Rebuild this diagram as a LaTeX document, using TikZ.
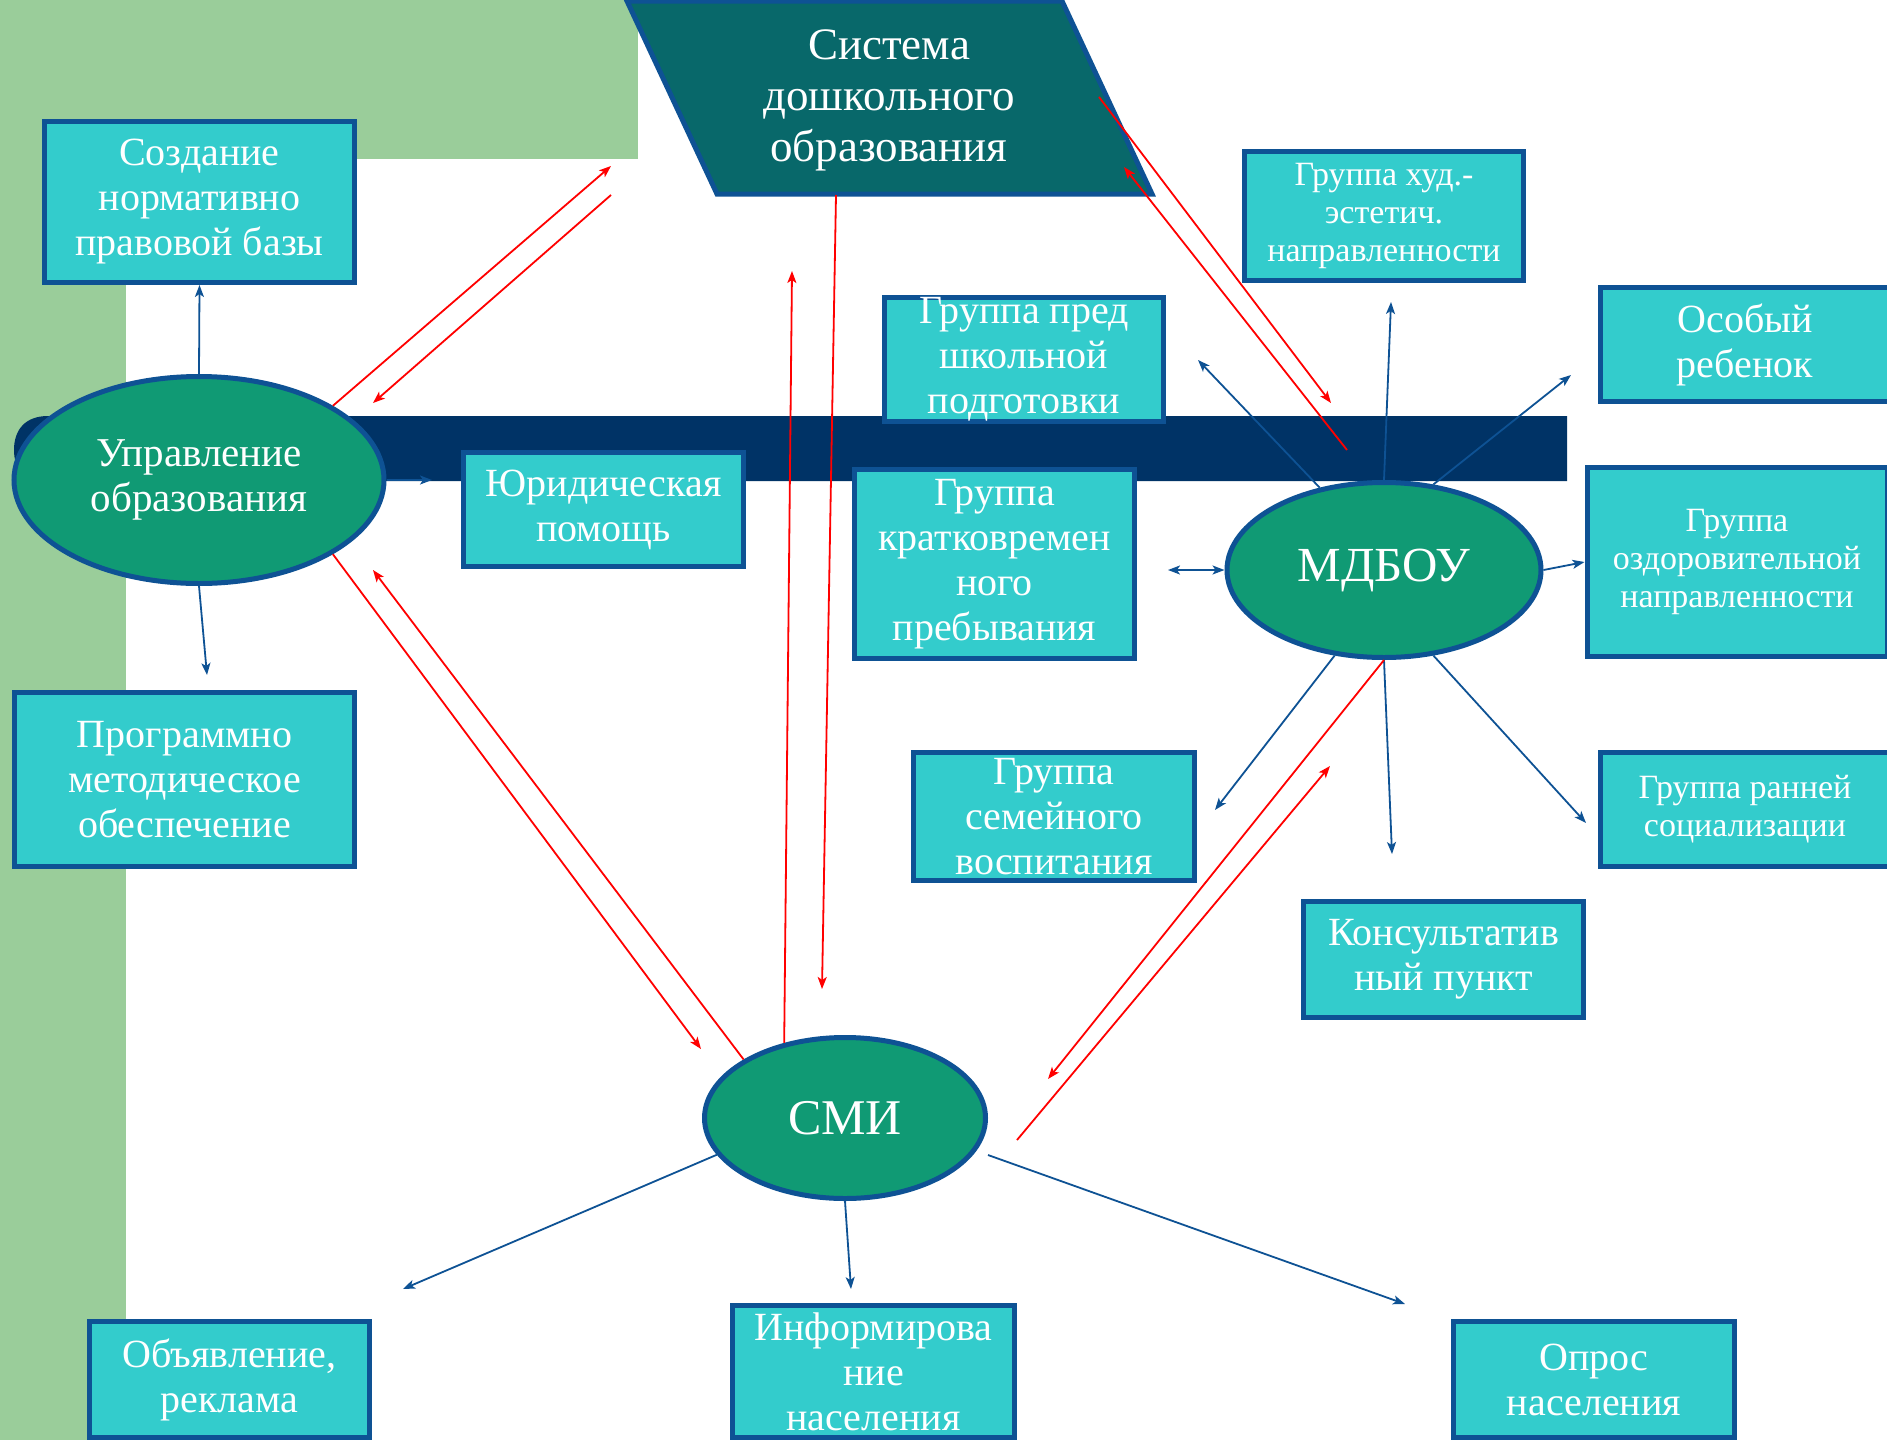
\documentclass[tikz,border=0pt]{standalone}
\usepackage{fontspec}
\setmainfont{Liberation Serif}
\usetikzlibrary{arrows.meta,shapes.geometric}
\definecolor{bggreen}{RGB}{154,205,154}
\definecolor{navyband}{RGB}{0,51,102}
\definecolor{sysfill}{RGB}{8,104,106}
\definecolor{bord}{RGB}{14,82,148}
\definecolor{ellfill}{RGB}{16,154,116}
\definecolor{boxfill}{RGB}{51,204,204}
\tikzset{
  box/.style={rectangle, draw=bord, line width=5pt, fill=boxfill, text=white,
    align=center, inner sep=0pt, font=\fontsize{40}{45}\selectfont},
  smallbox/.style={box, font=\fontsize{34}{38}\selectfont},
  oval/.style={ellipse, draw=bord, line width=5pt, fill=ellfill, text=white,
    align=center, inner sep=0pt, font=\fontsize{41}{45}\selectfont},
  barr/.style={draw=bord, line width=1.8pt, -{Stealth[length=12pt,width=9pt,inset=3pt]}},
  barrboth/.style={draw=bord, line width=1.8pt, {Stealth[length=12pt,width=9pt,inset=3pt]}-{Stealth[length=12pt,width=9pt,inset=3pt]}},
  rarr/.style={draw=red, line width=1.8pt, -{Stealth[length=12pt,width=9pt,inset=3pt]}}
}
\begin{document}
\begin{tikzpicture}[x=1pt,y=-1pt]
\useasboundingbox (0,0) rectangle (1887,1440);
\clip (0,0) rectangle (1887,1440);
\fill[white] (0,0) rectangle (1887,1440);
% background
\fill[bggreen] (0,0) rectangle (126,1440);
\fill[bggreen] (0,0) rectangle (638,159);
% band
\fill[navyband] (1567,416) -- (48,416) .. controls (25,416) and (14,430) .. (14,450)
  .. controls (14,470) and (25,481) .. (48,481) -- (1567,481) -- cycle;
% parallelogram
\filldraw[fill=sysfill, draw=bord, line width=5pt] (627,1) -- (1062,1) -- (1152,194) -- (717,194) -- cycle;
\node[text=white, align=center, font=\fontsize{45}{51}\selectfont] (sys) at (889,100) {Система\\дошкольного\\образования};

% ellipses
\node[oval, minimum width=370pt, minimum height=207pt] (upr) at (199,480) {Управление\\образования};
\node[oval, minimum width=314pt, minimum height=175pt, font=\fontsize{49}{52}\selectfont] (mdb) at (1384,570) {МДБОУ};
\node[oval, minimum width=281pt, minimum height=161pt, font=\fontsize{50}{52}\selectfont] (smi) at (845,1118) {СМИ};

% boxes
\node[box, minimum width=310pt, minimum height=161pt] (soz) at (199.5,202) {Создание\\нормативно\\правовой базы};
\node[box, minimum width=340pt, minimum height=174pt] (prog) at (184.5,779.5) {Программно\\методическое\\обеспечение};
\node[box, minimum width=280pt, minimum height=114pt] (yur) at (603.5,509.5) {Юридическая\\помощь};
\node[box, minimum width=279pt, minimum height=114pt] (pred) at (1024,359.5) {Группа пред\\школьной\\подготовки};
\node[box, minimum width=280pt, minimum height=189pt] (krat) at (994.5,564) {Группа\\кратковремен\\ного\\пребывания};
\node[smallbox, minimum width=279pt, minimum height=129pt] (hud) at (1384,216) {Группа худ.-\\эстетич.\\направленности};
\node[box, minimum width=290pt, minimum height=114pt] (osob) at (1745,344.5) {Особый\\ребенок};
\node[smallbox, minimum width=300pt, minimum height=189pt] (ozd) at (1737,562) {Группа\\оздоровительной\\направленности};
\node[box, minimum width=281pt, minimum height=128pt] (sem) at (1054,816.5) {Группа\\семейного\\воспитания};
\node[smallbox, minimum width=290pt, minimum height=114pt] (ran) at (1745,809.5) {Группа ранней\\социализации};
\node[box, minimum width=280pt, minimum height=116pt] (kons) at (1443.5,959.5) {Консультатив\\ный пункт};
\node[box, minimum width=280pt, minimum height=116pt] (obv) at (229.5,1379.5) {Объявление,\\реклама};
\node[box, minimum width=282pt, minimum height=132pt] (inf) at (873.5,1371.5) {Информирова\\ние\\населения};
\node[box, minimum width=281pt, minimum height=116pt] (opr) at (1594,1379.5) {Опрос\\населения};

% free ends
\coordinate (b1) at (207,675);
\coordinate (b2) at (432,480);
\coordinate (b3) at (1198,360);
\coordinate (b4) at (1391,302);
\coordinate (b5) at (1571,375);
\coordinate (b6) at (1168,570);
\coordinate (b7) at (1215,810);
\coordinate (b8) at (1392,854);
\coordinate (b9) at (1586,823);
\coordinate (b10) at (403,1289);
\coordinate (b11) at (851,1289);
\coordinate (b12) at (988,1155);
\coordinate (b13) at (1405,1304);
\coordinate (r1) at (611,166);
\coordinate (r2s) at (611,195);
\coordinate (r2) at (373,403);
\coordinate (r3) at (701,1049);
\coordinate (r4) at (373,570);
\coordinate (r5s) at (836,195);
\coordinate (r5) at (822,989);
\coordinate (r6) at (792,271);
\coordinate (r7s) at (1099,97);
\coordinate (r7) at (1331,403);
\coordinate (r8s) at (1347,450);
\coordinate (r8) at (1124,167);
\coordinate (r9) at (1048,1079);
\coordinate (r10s) at (1017,1140);
\coordinate (r10) at (1330,766);

% blue connectors
\draw[barr] (upr.north) -- (soz.south);
\draw[barr] (upr.south) -- (b1);
\draw[barr] (upr.east) -- (b2);
\draw[barr] (mdb.128) -- (b3);
\draw[barr] (mdb.north) -- (b4);
\draw[barr] (mdb.60) -- (b5);
\draw[barrboth] (mdb.west) -- (b6);
\draw[barr] (mdb.east) -- (ozd.west);
\draw[barr] (mdb.240) -- (b7);
\draw[barr] (mdb.south) -- (b8);
\draw[barr] (mdb.-60) -- (b9);
\draw[barr] (smi.196) -- (b10);
\draw[barr] (smi.south) -- (b11);
\draw[barr] (b12) -- (b13);

% red connectors
\draw[rarr] (upr.29) -- (r1);
\draw[rarr] (r2s) -- (r2);
\draw[rarr] (upr.-29) -- (r3);
\draw[rarr] (smi.150) -- (r4);
\draw[rarr] (r5s) -- (r5);
\draw[rarr] (smi.129) -- (r6);
\draw[rarr] (r7s) -- (r7);
\draw[rarr] (r8s) -- (r8);
\draw[rarr] (mdb.south) -- (r9);
\draw[rarr] (r10s) -- (r10);
\end{tikzpicture}
\end{document}
